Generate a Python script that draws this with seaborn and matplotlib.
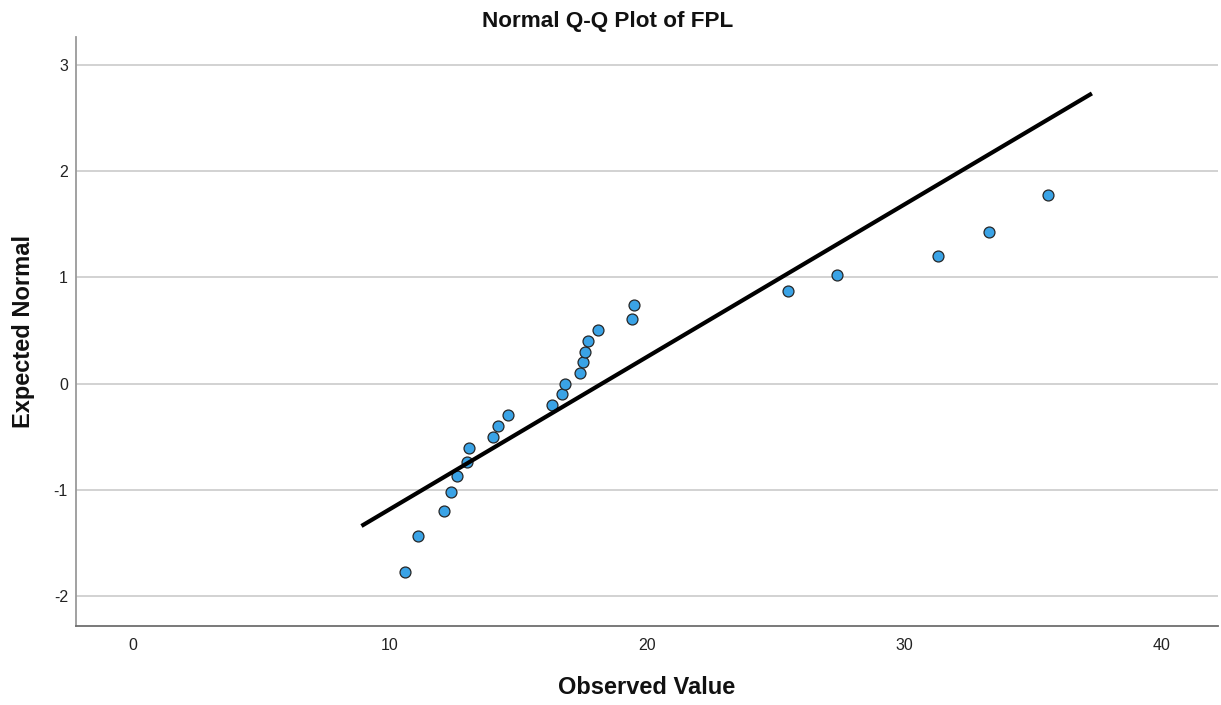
import numpy as np
import pandas as pd
import matplotlib
matplotlib.use("Agg")
import matplotlib.pyplot as plt
import seaborn as sns

# Observed FPL values and their expected normal scores
observed = [10.6, 11.1, 12.1, 12.4, 12.6, 13.0, 13.1, 14.0, 14.2, 14.6,
            16.3, 16.7, 16.8, 17.4, 17.5, 17.6, 17.7, 18.1, 19.4, 19.5,
            25.5, 27.4, 31.3, 33.3, 35.6]
expected = [-1.77, -1.43, -1.20, -1.02, -0.87, -0.74, -0.61, -0.50, -0.40, -0.30,
            -0.20, -0.10, 0.00, 0.10, 0.20, 0.30, 0.40, 0.50, 0.61, 0.74,
            0.87, 1.02, 1.20, 1.43, 1.77]

# Reference normal line: expected = (x - mean) / sd over this span
fit_mean = 18.25
fit_sd = 6.98
line_span = [8.9, 37.3]

x_ticks = [0, 10, 20, 30, 40]
y_ticks = [-2, -1, 0, 1, 2, 3]

sns.set_theme(style="white")
plt.rcParams["font.family"] = ["Liberation Sans", "DejaVu Sans"]
plt.rcParams["axes.unicode_minus"] = False

points = pd.DataFrame({"Observed Value": observed, "Expected Normal": expected})
line_x = np.array(line_span)
line = pd.DataFrame({"x": line_x, "y": (line_x - fit_mean) / fit_sd})

fig = plt.figure(figsize=(12.21, 7.05), dpi=100)
ax = fig.add_axes([0.0622, 0.1121, 0.9353, 0.8354])

for yt in y_ticks:
    ax.axhline(yt, color="#d2d2d2", linewidth=1.4, zorder=0)

sns.scatterplot(data=points, x="Observed Value", y="Expected Normal", ax=ax,
                s=62, color="#3aa3e6", edgecolor="#262626", linewidth=0.9,
                zorder=2)
sns.lineplot(data=line, x="x", y="y", ax=ax, color="black", linewidth=3.0,
             zorder=3, solid_capstyle="butt")

ax.set_xlim(-2.2, 42.2)
ax.set_ylim(-2.28, 3.26)
ax.set_xticks(x_ticks)
ax.set_yticks(y_ticks)
ax.set_yticklabels([str(v) for v in y_ticks])
ax.tick_params(axis="x", length=0, pad=8.5, labelsize=11.5, labelcolor="#222222")
ax.tick_params(axis="y", length=0, pad=5.8, labelsize=11.5, labelcolor="#222222")

for side in ("top", "right"):
    ax.spines[side].set_visible(False)
ax.spines["left"].set_color("#9a9a9a")
ax.spines["left"].set_linewidth(1.3)
ax.spines["bottom"].set_color("#6e6e6e")
ax.spines["bottom"].set_linewidth(1.3)

ax.set_xlabel("Observed Value", fontsize=17, fontweight="bold", labelpad=17,
              color="#111111")
ax.set_ylabel("Expected Normal", fontsize=17, fontweight="bold", color="#111111")
ax.yaxis.set_label_coords(-0.036, 0.5)
ax.set_title("Normal Q-Q Plot of FPL", fontsize=16.2, fontweight="bold",
             pad=7, x=0.4654, color="#111111")

fig.savefig("out.png", dpi=100)
